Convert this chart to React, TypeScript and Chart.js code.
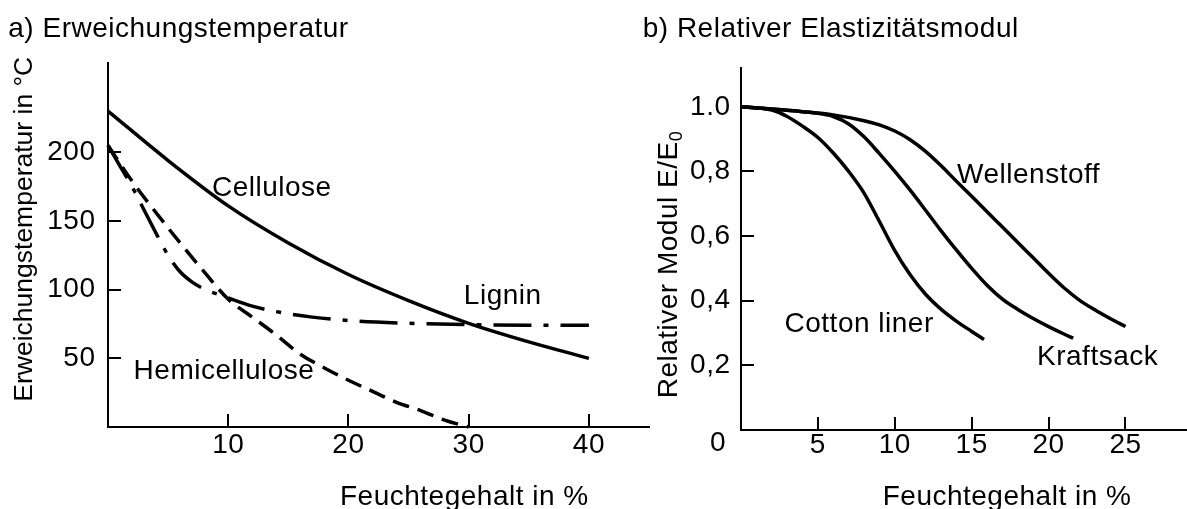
import React, { useEffect, useRef } from 'react';
import { Chart, registerables } from 'chart.js';

Chart.register(...registerables);

const W = 1187;
const H = 509;
const FONT = "'Liberation Sans', Arial, Helvetica, sans-serif";

// ---------- Panel a) Erweichungstemperatur ----------
const aTitle = 'a) Erweichungstemperatur';
const aXTitle = 'Feuchtegehalt in %';
const aYTitle = 'Erweichungstemperatur in °C';
const aXTicks = [10, 20, 30, 40];
const aYTicks = [50, 100, 150, 200];

const celluloseX = [0, 5, 10, 15, 20, 25, 30, 35, 40];
const celluloseY = [230, 194, 161, 134, 111, 92, 75.5, 62, 50];

const hemiX = [0, 2, 4, 6, 8, 10, 12, 14, 16, 18, 20, 22, 24, 26, 28, 30];
const hemiY = [205, 179, 156, 134, 113, 93, 80, 67, 53, 43, 34, 26, 18, 12, 5, 0];

const ligninX = [0, 1, 2, 3, 4, 5, 6, 7, 8, 10, 12, 14, 17, 20, 25, 30, 35, 40];
const ligninY = [205, 190, 175, 158, 141, 125, 113, 105.5, 100.5, 94, 88, 84, 80, 77.5, 75.5, 74.5, 74, 74];

const aLabels = ['Cellulose', 'Lignin', 'Hemicellulose'];
const aLabelX = [8.65, 29.6, 2.13];
const aLabelY = [168.5, 89.7, 35.2];

// ---------- Panel b) Relativer Elastizitätsmodul ----------
const bTitle = 'b) Relativer Elastizitätsmodul';
const bXTitle = 'Feuchtegehalt in %';
const bYTitle = 'Relativer Modul E/E';
const bYTitleSub = '0';
const bOriginLabel = '0';
const bXTicks = [5, 10, 15, 20, 25];
const bYTicks = [0.2, 0.4, 0.6, 0.8, 1.0];
const bYTickLabels = ['0,2', '0,4', '0,6', '0,8', '1.0'];

const cottonX = [0, 2, 3, 4, 5, 6, 7, 8, 9, 10, 11, 12, 13, 14, 15, 15.8];
const cottonY = [1.0, 0.99, 0.97, 0.94, 0.905, 0.857, 0.8, 0.733, 0.645, 0.555, 0.48, 0.42, 0.374, 0.337, 0.305, 0.28];

const kraftX = [0, 2, 4, 5, 6, 7, 8, 9, 10, 11, 12, 13, 14, 15, 16, 17, 18, 19, 20, 21, 21.6];
const kraftY = [1.0, 0.993, 0.985, 0.98, 0.97, 0.947, 0.907, 0.855, 0.8, 0.742, 0.68, 0.617, 0.557, 0.5, 0.448, 0.405, 0.373, 0.345, 0.32, 0.297, 0.284];

const wellX = [0, 2, 4, 6, 8, 9, 10, 11, 12, 13, 14, 15, 16, 17, 18, 19, 20, 21, 22, 23, 24, 25];
const wellY = [1.0, 0.993, 0.985, 0.975, 0.957, 0.944, 0.925, 0.898, 0.862, 0.818, 0.77, 0.723, 0.675, 0.628, 0.58, 0.533, 0.485, 0.44, 0.402, 0.372, 0.345, 0.32];

const bLabels = ['Wellenstoff', 'Cotton liner', 'Kraftsack'];
const bLabelX = [14.05, 2.83, 19.25];
const bLabelY = [0.763, 0.304, 0.201];

const pts = (xs: number[], ys: number[]) => xs.map((x, i) => ({ x, y: ys[i] }));

const lineDs = (xs: number[], ys: number[], dash: number[] = []) => ({
  data: pts(xs, ys),
  borderColor: '#000',
  borderWidth: 3.5,
  borderDash: dash,
  borderCapStyle: 'butt',
  borderJoinStyle: 'round',
  pointRadius: 0,
  fill: false,
  clip: false,
  cubicInterpolationMode: 'monotone',
});

const SIZE = 28;
const SPACING = '0.5px';

const spacingPlugin = {
  id: 'spacing',
  beforeUpdate(chart: any) { (chart.ctx as any).letterSpacing = SPACING; },
  beforeDraw(chart: any) { (chart.ctx as any).letterSpacing = SPACING; },
};

const inwardTicks = {
  id: 'inwardTicks',
  afterDraw(chart: any) {
    const ctx = chart.ctx;
    const xs = chart.scales.x;
    const ys = chart.scales.y;
    const ca = chart.chartArea;
    ctx.save();
    ctx.strokeStyle = '#000';
    ctx.lineWidth = 2;
    ctx.beginPath();
    xs.ticks.forEach((t: any) => {
      const px = Math.round(xs.getPixelForValue(t.value));
      ctx.moveTo(px, ca.bottom);
      ctx.lineTo(px, ca.bottom - 13);
    });
    ys.ticks.forEach((t: any) => {
      const py = Math.round(ys.getPixelForValue(t.value));
      ctx.moveTo(ca.left, py);
      ctx.lineTo(ca.left + 13, py);
    });
    ctx.stroke();
    ctx.restore();
  },
};

const setText = (ctx: any, size: number, spacing: string) => {
  ctx.font = `${size}px ${FONT}`;
  ctx.fillStyle = '#000';
  ctx.letterSpacing = spacing;
  ctx.textAlign = 'left';
  ctx.textBaseline = 'alphabetic';
};

const tickFont = { family: FONT, size: SIZE, lineHeight: 1 };

const makeScales = (
  xMax: number, yMax: number, xTicks: number[], yTicks: number[],
  xPad: number, yPad: number, yWidth: number, xHeight: number, yLabel: (v: number) => string
) => ({
  x: {
    type: 'linear',
    min: 0,
    max: xMax,
    afterFit: (s: any) => { s.height = xHeight; },
    afterBuildTicks: (s: any) => { s.ticks = xTicks.map((v) => ({ value: v })); },
    grid: { display: false, drawTicks: false },
    border: { display: true, color: '#000', width: 2 },
    ticks: {
      color: '#000', font: tickFont, padding: xPad, maxRotation: 0, minRotation: 0,
      autoSkip: false, callback: (v: any) => String(v),
    },
  },
  y: {
    type: 'linear',
    min: 0,
    max: yMax,
    afterFit: (s: any) => { s.width = yWidth; },
    afterBuildTicks: (s: any) => { s.ticks = yTicks.map((v) => ({ value: v })); },
    grid: { display: false, drawTicks: false },
    border: { display: true, color: '#000', width: 2 },
    ticks: {
      color: '#000', font: tickFont, padding: yPad, autoSkip: false,
      callback: (v: any) => yLabel(v),
    },
  },
});

function configA(): any {
  const textPlugin = {
    id: 'textA',
    afterDraw(chart: any) {
      const ctx = chart.ctx;
      const xs = chart.scales.x;
      const ys = chart.scales.y;
      ctx.save();
      setText(ctx, SIZE, SPACING);
      ctx.fillText(aTitle, 8.3, 36.7);
      ctx.fillText(aXTitle, 340, 504.5);
      aLabels.forEach((t, i) => {
        ctx.fillText(t, xs.getPixelForValue(aLabelX[i]), ys.getPixelForValue(aLabelY[i]));
      });
      ctx.translate(31.7, 401.7);
      ctx.rotate(-Math.PI / 2);
      setText(ctx, 26.5, '0px');
      ctx.fillText(aYTitle, 0, 0);
      ctx.restore();
    },
  };
  return {
    type: 'line',
    data: {
      datasets: [
        lineDs(celluloseX, celluloseY),
        lineDs(hemiX, hemiY, [17, 9]),
        lineDs(ligninX, ligninY, [38, 12, 5, 12]),
      ],
    },
    options: {
      responsive: false,
      animation: false,
      events: [],
      layout: { padding: { left: 0, top: 63, right: W - 649, bottom: 0 } },
      plugins: { legend: { display: false }, tooltip: { enabled: false }, title: { display: false } },
      scales: makeScales(45, 265, aXTicks, aYTicks, 4, 12.5, 108, H - 427, (v) => String(v)),
    },
    plugins: [spacingPlugin, inwardTicks, textPlugin],
  };
}

function configB(): any {
  const textPlugin = {
    id: 'textB',
    afterDraw(chart: any) {
      const ctx = chart.ctx;
      const xs = chart.scales.x;
      const ys = chart.scales.y;
      ctx.save();
      setText(ctx, SIZE, SPACING);
      ctx.fillText(bTitle, 642.7, 36.7);
      ctx.fillText(bXTitle, 882.7, 504.5);
      bLabels.forEach((t, i) => {
        ctx.fillText(t, xs.getPixelForValue(bLabelX[i]), ys.getPixelForValue(bLabelY[i]));
      });
      ctx.textAlign = 'center';
      ctx.textBaseline = 'middle';
      ctx.fillText(bOriginLabel, xs.getPixelForValue(0) - 23, 443);
      ctx.translate(676.7, 398.3);
      ctx.rotate(-Math.PI / 2);
      setText(ctx, SIZE, '0.5px');
      ctx.fillText(bYTitle, 0, 0);
      const w = ctx.measureText(bYTitle).width;
      setText(ctx, 18, '0px');
      ctx.fillText(bYTitleSub, w, 5);
      ctx.restore();
    },
  };
  return {
    type: 'line',
    data: {
      datasets: [
        lineDs(cottonX, cottonY),
        lineDs(kraftX, kraftY),
        lineDs(wellX, wellY),
      ],
    },
    options: {
      responsive: false,
      animation: false,
      events: [],
      layout: { padding: { left: 600, top: 68, right: 0, bottom: 0 } },
      plugins: { legend: { display: false }, tooltip: { enabled: false }, title: { display: false } },
      scales: makeScales(29, 1.12, bXTicks, bYTicks, 1, 10.5, 141, H - 430, (v) => {
        const i = bYTicks.findIndex((t) => Math.abs(t - v) < 1e-9);
        return i >= 0 ? bYTickLabels[i] : '';
      }),
    },
    plugins: [spacingPlugin, inwardTicks, textPlugin],
  };
}

export default function App() {
  const aRef = useRef<HTMLCanvasElement>(null);
  const bRef = useRef<HTMLCanvasElement>(null);
  useEffect(() => {
    const ca = new Chart(aRef.current as HTMLCanvasElement, configA());
    const cb = new Chart(bRef.current as HTMLCanvasElement, configB());
    return () => {
      ca.destroy();
      cb.destroy();
    };
  }, []);
  return (
    <div style={{ position: 'fixed', left: 0, top: 0, width: W, height: H, background: '#fff', overflow: 'hidden' }}>
      <canvas ref={aRef} width={W} height={H} style={{ position: 'absolute', left: 0, top: 0 }} />
      <canvas ref={bRef} width={W} height={H} style={{ position: 'absolute', left: 0, top: 0 }} />
    </div>
  );
}
